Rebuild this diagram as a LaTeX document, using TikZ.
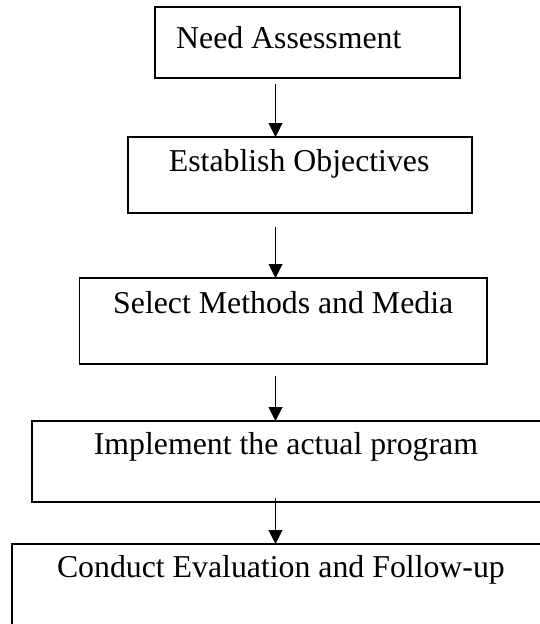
\documentclass[tikz,border=0pt]{standalone}
\usepackage{fontspec}
\setmainfont{Liberation Serif}
\usetikzlibrary{arrows.meta}

\begin{document}
\begin{tikzpicture}[
        x=1pt, y=-1pt,
        caixa_passo/.style={draw, rectangle, line width=1.8pt, inner sep=0pt, outer sep=0pt, anchor=north west},
        texto_passo/.style={anchor=base west, inner sep=0pt, font=\fontsize{31.8}{38}\selectfont},
        seta_passo/.style={-{Triangle[length=14pt, width=14pt]}, line width=1pt}
    ]
    \useasboundingbox (0,0) rectangle (540,624);
    \clip (0,0) rectangle (540,624);

    % caixas (as duas ultimas saem da pagina)
    \node[caixa_passo, minimum width=305pt, minimum height=71pt] (p1) at (155,7) {};
    \node[caixa_passo, minimum width=344pt, minimum height=76pt] (p2) at (128,137) {};
    \node[caixa_passo, minimum width=407.5pt, minimum height=86pt] (p3) at (79.5,278) {};
    \node[caixa_passo, minimum width=600pt, minimum height=81pt] (p4) at (31.7,421) {};
    \node[caixa_passo, minimum width=600pt, minimum height=200pt] (p5) at (12,544) {};

    \node[texto_passo] (t1) at (176,48) {Need Assessment};
    \node[texto_passo] (t2) at (168.7,171) {Establish Objectives};
    \node[texto_passo] (t3) at (113,313) {Select Methods and Media};
    \node[texto_passo] (t4) at (93.7,454) {Implement the actual program};
    \node[texto_passo] (t5) at (56.8,577) {Conduct Evaluation and Follow-up};

    % setas
    \coordinate (s1) at (275.5,84);
    \coordinate (s2) at (275.5,227);
    \coordinate (s3) at (275.5,375.6);
    \coordinate (s4) at (275.5,498);
    \draw[seta_passo] (s1) -- (s1 |- p2.north);
    \draw[seta_passo] (s2) -- (s2 |- p3.north);
    \draw[seta_passo] (s3) -- (s3 |- p4.north);
    \draw[seta_passo] (s4) -- (s4 |- p5.north);
\end{tikzpicture}
\end{document}
